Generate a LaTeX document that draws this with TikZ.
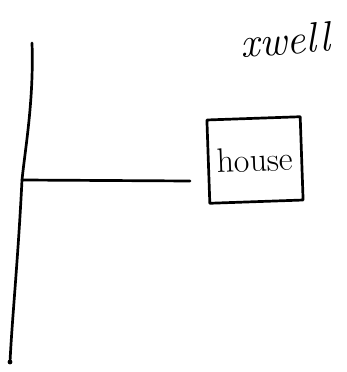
\documentclass[tikz,border=0pt]{standalone}
\usepackage{amsfonts,amssymb,amsmath}
\usepackage{xcolor}
\usetikzlibrary{arrows.meta,positioning}

\begin{document}
\begin{tikzpicture}[x=0.03cm,y=-0.03cm,
  pen/.style={line width=2.3pt,line cap=round,line join=round},
  housebox/.style={draw,pen,minimum width=2.8cm,minimum height=2.5cm,
    inner sep=0pt,font=\fontsize{29}{34}\selectfont},
  sign/.style={font=\fontsize{36}{42}\selectfont\itshape}]
\useasboundingbox(0,0)rectangle(347,372);
% the road
\coordinate(roadtop)at(32,43);
\coordinate(fork)at(22,180);
\coordinate(roadend)at(10,362);
\coordinate(lanend)at(190,181);
\draw[pen](roadtop)..controls(34,100)and(25,150)..(fork)
  ..controls(18,260)and(12,320)..(roadend);
\draw[pen](fork)--(lanend);
\fill(roadend)circle(2.4);
% house and well
\node[housebox,rotate=2](house)at(255,160){house};
\node[sign,rotate=4](well)at(285,40){xwell};
\end{tikzpicture}
\end{document}
